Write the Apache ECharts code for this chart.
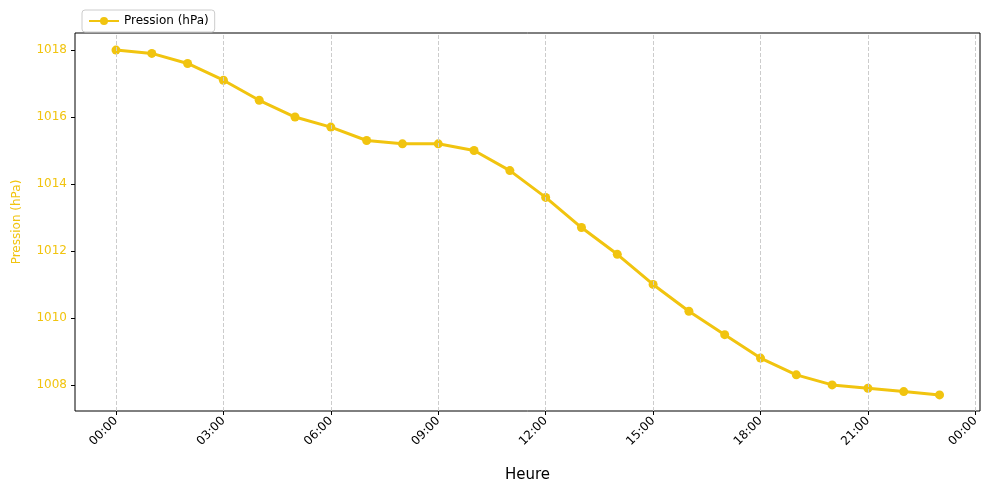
<!DOCTYPE html>
<html><head><meta charset="utf-8">
<script src="https://cdn.jsdelivr.net/npm/echarts@6/dist/echarts.min.js"></script>
<style>html,body{margin:0;padding:0;background:#fff}#c{width:989px;height:493px}</style>
</head><body><div id="c"></div>
<script>
const hours = [0,1,2,3,4,5,6,7,8,9,10,11,12,13,14,15,16,17,18,19,20,21,22,23];
const pressure = [1018.0,1017.9,1017.6,1017.1,1016.5,1016.0,1015.7,1015.3,1015.2,1015.2,1015.0,1014.4,1013.6,1012.7,1011.9,1011.0,1010.2,1009.5,1008.8,1008.3,1008.0,1007.9,1007.8,1007.7];
const xTicks = [0,3,6,9,12,15,18,21,24];
const yTicks = [1008,1010,1012,1014,1016,1018];
const color = '#f1c40f';
const fmt = v => String(Math.round(v)%24).padStart(2,'0') + ':00';
const chart = echarts.init(document.getElementById('c'));
chart.setOption({
  animation:false,
  textStyle:{fontFamily:'DejaVu Sans'},
  legend:{left:82,top:10,itemWidth:30,itemHeight:10,padding:[5,6],borderColor:'#ccc',borderWidth:1,borderRadius:3,
    textStyle:{fontSize:12,color:'#000'}, data:['Pression (hPa)']},
  grid:{left:75,right:9,top:33,bottom:82,show:true,borderColor:'#000',borderWidth:1},
  xAxis:{type:'value',min:-1.145,max:24.13,name:'Heure',nameLocation:'middle',nameGap:57,
    nameTextStyle:{fontSize:15,color:'#000'},
    axisLine:{show:false,onZero:false},splitLine:{show:false},
    axisTick:{show:true,customValues:xTicks,length:4,lineStyle:{color:'#000'}},
    axisLabel:{customValues:xTicks,rotate:45,formatter:fmt,color:'#000',fontSize:12,margin:8}},
  yAxis:{type:'value',min:1007.22,max:1018.51,name:'Pression (hPa)',nameLocation:'middle',nameGap:52,
    nameTextStyle:{fontSize:12,color:color},
    axisLine:{show:false,onZero:false},splitLine:{show:false},
    axisTick:{show:true,customValues:yTicks,length:4,lineStyle:{color:'#000'}},
    axisLabel:{customValues:yTicks,formatter:v=>String(Math.round(v)),color:color,fontSize:12,margin:8}},
  series:[{name:'Pression (hPa)',type:'line',data:hours.map((h,i)=>[h,pressure[i]]),
    color:color,lineStyle:{width:3,color:color},symbol:'circle',symbolSize:9,
    itemStyle:{color:color},
    markLine:{silent:true,symbol:'none',label:{show:false},
      lineStyle:{type:'dashed',color:'#ccc',width:1},
      data:xTicks.map(t=>({xAxis:t}))}}]
});
</script></body></html>
